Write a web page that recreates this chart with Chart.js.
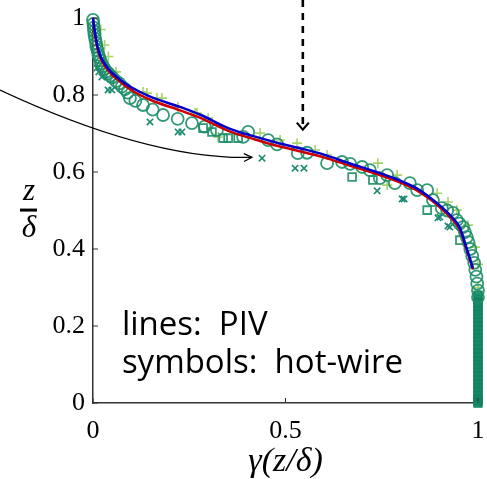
<!DOCTYPE html>
<html>
<head>
<meta charset="utf-8">
<title>intermittency profile</title>
<script src="https://cdn.jsdelivr.net/npm/chart.js@4/dist/chart.umd.min.js"></script>
<style>
  html, body { margin: 0; padding: 0; background: #fff; }
  #wrap { width: 487px; height: 479px; }
</style>
</head>
<body>
<div id="wrap"><canvas id="myChart" width="487" height="479"></canvas></div>
<script>
// tick values
const xTickValues = [0, 0.5, 1];
const yTickValues = [0, 0.2, 0.4, 0.6, 0.8, 1];

// PIV lines (gamma, z/delta)
const pivGamma = [0, 0.004, 0.013, 0.036, 0.07, 0.096, 0.15, 0.226, 0.28, 0.356, 0.41, 0.478, 0.545, 0.6, 0.668, 0.73, 0.797, 0.84, 0.88, 0.91, 0.935, 0.953, 0.971, 0.987];
const pivZBlue = [1.0, 0.97, 0.92, 0.873, 0.84, 0.822, 0.795, 0.769, 0.748, 0.712, 0.695, 0.676, 0.66, 0.645, 0.622, 0.602, 0.578, 0.558, 0.53, 0.505, 0.48, 0.455, 0.4, 0.35];
const pivZRed  = [1.0, 0.965, 0.915, 0.868, 0.835, 0.815, 0.787, 0.76, 0.74, 0.705, 0.688, 0.668, 0.652, 0.638, 0.616, 0.597, 0.573, 0.553, 0.526, 0.5, 0.475, 0.45, 0.397, 0.347];

// hot-wire symbols
const circGamma = [0, 0.001, 0.002, 0.003, 0.004, 0.006, 0.008, 0.009, 0.012, 0.014, 0.016, 0.019, 0.022, 0.026, 0.03, 0.035, 0.04, 0.045, 0.05, 0.06, 0.068, 0.075, 0.083, 0.09, 0.096, 0.11, 0.13, 0.155, 0.182, 0.22, 0.257, 0.29, 0.322, 0.39, 0.403, 0.455, 0.478, 0.532, 0.556, 0.608, 0.647, 0.668, 0.699, 0.719, 0.745, 0.764, 0.784, 0.823, 0.842, 0.868, 0.883, 0.906, 0.92, 0.935, 0.945, 0.952, 0.961, 0.966, 0.971, 0.975, 0.98, 0.985, 0.99, 0.993, 0.996, 0.998, 1.0, 1.0];
const circZ     = [0.995, 0.985, 0.975, 0.965, 0.955, 0.945, 0.935, 0.925, 0.915, 0.905, 0.898, 0.89, 0.882, 0.875, 0.868, 0.861, 0.856, 0.85, 0.846, 0.836, 0.83, 0.822, 0.815, 0.806, 0.792, 0.785, 0.774, 0.762, 0.748, 0.738, 0.727, 0.718, 0.709, 0.691, 0.704, 0.683, 0.672, 0.649, 0.65, 0.623, 0.626, 0.621, 0.613, 0.605, 0.584, 0.592, 0.571, 0.571, 0.553, 0.553, 0.527, 0.506, 0.5, 0.494, 0.475, 0.466, 0.457, 0.444, 0.431, 0.418, 0.4, 0.382, 0.364, 0.346, 0.328, 0.31, 0.292, 0.275];
const sqGamma = [0.286, 0.309, 0.338, 0.351, 0.377, 0.673, 0.727, 0.868, 0.953];
const sqZ     = [0.714, 0.704, 0.688, 0.688, 0.688, 0.587, 0.579, 0.501, 0.423];
// squares stacked at gamma = 1 near the wall
const wallGamma = [1.0, 1.0, 1.0, 1.0, 1.0, 1.0, 1.0, 1.0, 1.0, 1.0, 1.0, 1.0, 1.0, 1.0, 1.0, 1.0, 1.0, 1.0, 1.0, 1.0, 1.0, 1.0, 1.0, 1.0, 1.0, 1.0, 1.0, 1.0, 1.0, 1.0];
const wallZ     = [0.28, 0.27, 0.26, 0.25, 0.24, 0.23, 0.22, 0.21, 0.2, 0.19, 0.18, 0.17, 0.16, 0.15, 0.14, 0.13, 0.12, 0.11, 0.1, 0.09, 0.08, 0.07, 0.06, 0.05, 0.04, 0.03, 0.02, 0.01, 0.005, 0.0];
const xGamma = [0.01, 0.015, 0.023, 0.039, 0.049, 0.148, 0.221, 0.231, 0.439, 0.525, 0.548, 0.738, 0.803, 0.808, 0.896, 0.901, 0.922, 0.927];
const xZ     = [0.87, 0.86, 0.847, 0.813, 0.813, 0.73, 0.704, 0.704, 0.636, 0.61, 0.61, 0.551, 0.53, 0.53, 0.481, 0.483, 0.46, 0.457];
const plusGamma = [0.02, 0.03, 0.04, 0.06, 0.13, 0.14, 0.166, 0.179, 0.221, 0.265, 0.27, 0.299, 0.325, 0.434, 0.486, 0.53, 0.577, 0.608, 0.74, 0.764, 0.79, 0.894, 0.922, 0.945, 0.974, 0.992, 1.0, 1.0, 1.0, 1.0];
const plusZ     = [0.97, 0.93, 0.9, 0.86, 0.808, 0.805, 0.792, 0.792, 0.769, 0.753, 0.753, 0.74, 0.691, 0.701, 0.683, 0.675, 0.657, 0.644, 0.623, 0.566, 0.592, 0.545, 0.522, 0.501, 0.462, 0.405, 0.36, 0.3, 0.2, 0.1];

function pairs(xs, ys) {
    return xs.map(function (v, i) { return { x: v, y: ys[i] }; });
}

// arrows, overlay text and the fraction-style y title
const overlayPlugin = {
    id: 'overlay',
    afterDraw: function (chart) {
        const ctx = chart.ctx;
        const sx = chart.scales.x, sy = chart.scales.y;
        const px = function (v) { return sx.getPixelForValue(v); };
        const py = function (v) { return sy.getPixelForValue(v); };
        ctx.save();

        // inward tick marks
        ctx.strokeStyle = '#333';
        ctx.lineWidth = 1;
        yTickValues.forEach(function (v) {
            ctx.beginPath(); ctx.moveTo(px(0), py(v)); ctx.lineTo(px(0) + 5, py(v)); ctx.stroke();
        });
        xTickValues.forEach(function (v) {
            ctx.beginPath(); ctx.moveTo(px(v), py(0)); ctx.lineTo(px(v), py(0) - 5); ctx.stroke();
        });

        // curved thin arrow
        const a0 = { x: px(-0.2416), y: py(0.813) };
        const ac = { x: px(0.148), y: py(0.631) };
        const a1 = { x: px(0.413), y: py(0.638) };
        ctx.strokeStyle = '#000';
        ctx.lineWidth = 1.2;
        ctx.beginPath();
        ctx.moveTo(a0.x, a0.y);
        ctx.quadraticCurveTo(ac.x, ac.y, a1.x, a1.y);
        ctx.stroke();
        const ang = Math.atan2(a1.y - ac.y, a1.x - ac.x);
        ctx.beginPath();
        ctx.moveTo(a1.x - 9 * Math.cos(ang - 0.45), a1.y - 9 * Math.sin(ang - 0.45));
        ctx.lineTo(a1.x, a1.y);
        ctx.lineTo(a1.x - 9 * Math.cos(ang + 0.45), a1.y - 9 * Math.sin(ang + 0.45));
        ctx.stroke();

        // dashed vertical arrow
        const dx = px(0.545);
        const dTip = py(0.71);
        ctx.lineWidth = 2.6;
        ctx.setLineDash([7, 6]);
        ctx.beginPath(); ctx.moveTo(dx, 0); ctx.lineTo(dx, dTip - 4); ctx.stroke();
        ctx.setLineDash([]);
        ctx.lineWidth = 2.2;
        ctx.beginPath();
        ctx.moveTo(dx - 6, dTip - 7); ctx.lineTo(dx, dTip); ctx.lineTo(dx + 6, dTip - 7);
        ctx.stroke();

        // text box
        ctx.fillStyle = '#000';
        ctx.font = '33px "Open Sans"';
        ctx.textAlign = 'left';
        ctx.textBaseline = 'alphabetic';
        ctx.fillText('lines:  PIV', px(0.075), py(0.177));
        ctx.fillText('symbols:  hot-wire', px(0.075), py(0.078));

        // y title z / delta
        ctx.font = 'italic 31px "Liberation Serif"';
        ctx.textAlign = 'center';
        ctx.textBaseline = 'middle';
        ctx.fillText('z', 29, py(0.548));
        ctx.fillRect(20, py(0.505), 17, 3);
        ctx.fillText('δ', 29, py(0.452));

        ctx.restore();
    }
};

function myLoadFunction() {
    const ctx = document.getElementById('myChart').getContext('2d');
    var myChartConfig = {
        type: 'scatter',
        data: {
            datasets: [
            {
                type: 'line',
                label: 'PIV blue',
                data: pairs(pivGamma, pivZBlue),
                borderColor: '#0000cc',
                borderWidth: 2.5,
                pointRadius: 0,
                cubicInterpolationMode: 'monotone',
                order: 0
            },
            {
                type: 'line',
                label: 'PIV red',
                data: pairs(pivGamma, pivZRed),
                borderColor: '#cc0000',
                borderWidth: 2.5,
                pointRadius: 0,
                cubicInterpolationMode: 'monotone',
                order: 1
            },
            {
                label: 'circles',
                data: pairs(circGamma, circZ),
                pointStyle: 'circle',
                pointRadius: 6,
                borderWidth: 1.8,
                borderColor: 'rgba(30,142,104,0.9)',
                backgroundColor: 'rgba(0,0,0,0)',
                order: 3
            },
            {
                label: 'squares',
                data: pairs(sqGamma, sqZ),
                pointStyle: 'rect',
                pointRadius: 5.5,
                borderWidth: 1.8,
                borderColor: 'rgba(30,142,104,0.9)',
                backgroundColor: 'rgba(0,0,0,0)',
                order: 4
            },
            {
                label: 'squares near wall',
                data: pairs(wallGamma, wallZ),
                pointStyle: 'rect',
                pointRadius: 5.5,
                borderWidth: 1.5,
                borderColor: 'rgba(18,128,98,1)',
                backgroundColor: 'rgba(20,135,100,0.9)',
                order: 4
            },
            {
                label: 'crosses',
                data: pairs(xGamma, xZ),
                pointStyle: 'crossRot',
                pointRadius: 4.5,
                borderWidth: 1.6,
                borderColor: '#1b8a70',
                order: 5
            },
            {
                label: 'plus',
                data: pairs(plusGamma, plusZ),
                pointStyle: 'cross',
                pointRadius: 5,
                borderWidth: 1.6,
                borderColor: '#a6d36a',
                order: 6
            }
        ]
        },
        options: {
            responsive: false,
            animation: false,
            clip: false,
            layout: { padding: { top: 18, right: 9, left: 0, bottom: 0 } },
            plugins: {
                legend: { display: false },
                tooltip: { enabled: false }
            },
            scales: {
                x: {
                    type: 'linear',
                    min: 0,
                    max: 1,
                    afterBuildTicks: function (s) { s.ticks = xTickValues.map(function (v) { return { value: v }; }); },
                    afterFit: function (s) { s.height = 76; s.paddingLeft = 0; s.paddingRight = 0; },
                    grid: { display: false, drawTicks: false },
                    border: { display: true, color: '#333', width: 1.5 },
                    ticks: {
                        color: '#000',
                        padding: 13,
                        maxRotation: 0,
                        callback: function (v) { return String(v); },
                        font: { family: '"Liberation Serif"', size: 26 }
                    },
                    title: {
                        display: true,
                        text: 'γ(z/δ)',
                        color: '#000',
                        padding: { top: 0, bottom: 0 },
                        font: { family: '"Liberation Serif"', size: 34, style: 'italic', lineHeight: 1.0 }
                    }
                },
                y: {
                    type: 'linear',
                    min: 0,
                    max: 1,
                    afterBuildTicks: function (s) { s.ticks = yTickValues.map(function (v) { return { value: v }; }); },
                    afterFit: function (s) { s.width = 93; s.paddingTop = 0; s.paddingBottom = 0; },
                    grid: { display: false, drawTicks: false },
                    border: { display: true, color: '#333', width: 1.5 },
                    ticks: {
                        color: '#000',
                        padding: 8,
                        callback: function (v) { return String(v); },
                        font: { family: '"Liberation Serif"', size: 26 }
                    }
                }
            }
        },
        plugins: [overlayPlugin]
    };
    const myChart = new Chart(ctx, myChartConfig);
}

document.addEventListener('DOMContentLoaded', myLoadFunction);
</script>
</body>
</html>
